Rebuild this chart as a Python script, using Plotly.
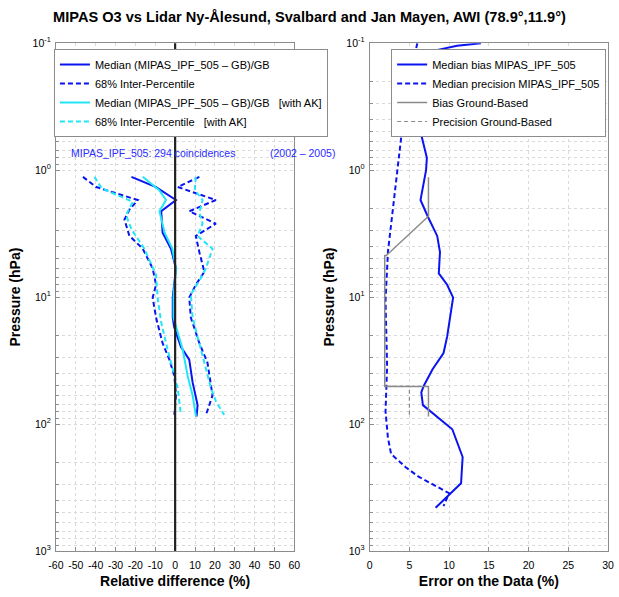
import plotly.graph_objects as go

# ---------------- data (left panel: relative difference %, pressure hPa) ----------------
med_p = [1.13, 1.36, 1.72, 2.11, 3.11, 4.16, 5.95, 10.1, 14.5, 17.2, 24.6, 31.1, 47.0, 71.0, 87.3]
med_x = [-22, -9.6, 0.4, -7, -6.3, -2.1, 0.4, -1.2, -1.2, -0.5, 2.9, 7.1, 8.8, 11.3, 10.8]

medak_p = [1.13, 1.44, 1.72, 2.11, 3.11, 4.16, 5.95, 10.1, 14.5, 20.5, 25.9, 41.8, 59.5, 87.3]
medak_x = [-16.3, -8, -4.6, -7.9, -5.3, -1.4, 0.4, -0.8, -0.8, 2.1, 3.8, 6.3, 8.8, 10.5]

lo_p = [1.13, 1.36, 1.72, 2.05, 2.45, 3.30, 4.16, 5.95, 8.0, 10.1, 14.5, 23.1, 31.1, 41.8, 59.5, 84.7]
lo_x = [-46.4, -39.7, -18.8, -23, -25.5, -23, -16.3, -11.3, -9.6, -11.3, -9.6, -6.3, -2.9, -0.4, 0.4, -0.4]

hi_p = [1.13, 1.36, 1.72, 2.11, 2.64, 3.30, 4.44, 6.32, 8.0, 10.1, 14.5, 23.1, 33.0, 59.5, 71.0, 84.7]
hi_x = [12.2, 1.3, 20.5, 7.1, 20.5, 10.4, 12.2, 14.7, 10.4, 7.1, 7.9, 12.2, 16.3, 18.8, 17.2, 15.5]

loak_p = [1.13, 1.39, 1.78, 2.26, 2.92, 4.16, 6.7, 10.1, 15.6, 25.9, 51.9, 84.7]
loak_x = [-40.6, -37, -21.3, -24.7, -22, -15.5, -9.6, -8.8, -7.1, -3.8, 1.3, 2.9]

hiak_p = [1.13, 1.44, 1.72, 2.16, 2.64, 3.30, 4.16, 5.95, 7.44, 9.5, 14.5, 25.9, 51.9, 66.1, 84.7]
hiak_x = [10.4, 9.9, 13.8, 12.2, 13.8, 11.3, 18.8, 15.5, 12.2, 7.9, 8.8, 13, 18, 20.5, 24.7]

# ---------------- data (right panel: error on the data %) ----------------
bias_p = [0.1, 0.105, 0.115, 0.13, 0.144, 0.2, 0.293, 0.499, 0.80, 1.0, 1.72, 2.31, 3.30, 4.42, 6.51, 8.0,
          10.1, 20.5, 27.6, 37.2, 50.2, 56.4, 71.0, 79.9, 110, 182, 293, 351, 456]
bias_x = [14.0, 11, 8, 6.8, 6.5, 6.3, 6.2, 6.4, 7.2, 7.1, 6.4, 7.3, 8.5, 8.85, 8.7, 9.75,
          10.5, 9.75, 9.3, 7.9, 6.8, 6.5, 6.7, 7.7, 10.4, 11.7, 11.5, 10.2, 8.3]

prec_p = [0.1, 0.15, 0.26, 0.47, 0.755, 1.82, 4.42, 10.8, 35.0, 79.9, 128, 172, 218, 260, 310, 351, 444]
prec_x = [6.0, 5.4, 4.5, 4.1, 3.7, 3.0, 2.3, 2.0, 2.2, 2.0, 2.3, 2.7, 4.5, 6.15, 8.4, 10.0, 9.3]

gb_bias_p = [1.14, 2.31, 4.70, 4.70, 50.6, 50.6, 87.3]
gb_bias_x = [7.4, 7.4, 2.1, 1.9, 1.9, 7.4, 7.4]

gb_prec_p = [50.6, 50.6, 87.3]
gb_prec_x = [1.9, 5.0, 5.0]

left_xticks = [-60, -50, -40, -30, -20, -10, 0, 10, 20, 30, 40, 50, 60]
left_xlabels = ["-60", "-50", "-40", "-30", "-20", "-10", "0", "10", "20", "30", "40", "50", "60"]
right_xticks = [0, 5, 10, 15, 20, 25, 30]
decades = [0.1, 1, 10, 100, 1000]
decade_labels = ["10<sup>-1</sup>", "10<sup>0</sup>", "10<sup>1</sup>", "10<sup>2</sup>", "10<sup>3</sup>"]

TITLE = "MIPAS O3 vs Lidar Ny-Ålesund, Svalbard and Jan Mayen, AWI (78.9°,11.9°)"

FONT = "Liberation Sans, Arial, sans-serif"
BLUE = "#0a14f0"
CYAN = "#22e6f6"
GRAY = "#8a8a8a"
DASH = "5px,3px"

minor_vals = [d * m for d in decades[:-1] for m in range(2, 10)]

fig = go.Figure()

def line(x, y, color, dash, name, xa, ya, legend, width=2):
    fig.add_trace(go.Scatter(x=x, y=y, mode="lines", name=name,
                             line=dict(color=color, dash=dash, width=width),
                             xaxis=xa, yaxis=ya, legend=legend))

line(med_x, med_p, BLUE, "solid", "Median (MIPAS_IPF_505 – GB)/GB", "x", "y", "legend")
line(lo_x, lo_p, BLUE, DASH, "68% Inter-Percentile", "x", "y", "legend")
line(medak_x, medak_p, CYAN, "solid", "Median (MIPAS_IPF_505 – GB)/GB   [with AK]", "x", "y", "legend")
line(loak_x, loak_p, CYAN, DASH, "68% Inter-Percentile   [with AK]", "x", "y", "legend")
fig.add_trace(go.Scatter(x=hi_x, y=hi_p, mode="lines", line=dict(color=BLUE, dash=DASH, width=2),
                         showlegend=False, xaxis="x", yaxis="y"))
fig.add_trace(go.Scatter(x=hiak_x, y=hiak_p, mode="lines", line=dict(color=CYAN, dash=DASH, width=2),
                         showlegend=False, xaxis="x", yaxis="y"))

line(bias_x, bias_p, BLUE, "solid", "Median bias MIPAS_IPF_505", "x2", "y2", "legend2")
line(prec_x, prec_p, BLUE, DASH, "Median precision MIPAS_IPF_505", "x2", "y2", "legend2")
line(gb_bias_x, gb_bias_p, GRAY, "solid", "Bias Ground-Based", "x2", "y2", "legend2", width=1.5)
line(gb_prec_x, gb_prec_p, GRAY, "4px,3px", "Precision Ground-Based", "x2", "y2", "legend2", width=1.2)

# zero line in left panel
fig.add_shape(type="line", x0=0, x1=0, y0=0, y1=1, xref="x", yref="y domain",
              line=dict(color="#222", width=2.2), layer="above")

L0, L1 = 49 / 619, 293 / 619
R0, R1 = 370 / 619, 614 / 619
B, T = 1 - 556 / 597, 1 - 36 / 597

GRID = "#dadada"
axis_common = dict(showline=True, mirror=True, linecolor="#8c8c8c", linewidth=1,
                   showgrid=True, gridcolor=GRID, griddash="dot", gridwidth=1,
                   ticks="inside", ticklen=4, tickcolor="#8c8c8c", zeroline=False, tickangle=0,
                   tickfont=dict(size=10.5, color="black", family=FONT))

yaxis_common = dict(axis_common, type="log", range=[3, -1], tickmode="array",
                    tickvals=decades, ticktext=decade_labels, domain=[B, T], ticklabelstandoff=2,
                    minor=dict(tickmode="array", tickvals=minor_vals, showgrid=True, gridcolor=GRID,
                               griddash="dot", gridwidth=1, ticks="inside", ticklen=3, tickcolor="#8c8c8c"),
                    title=dict(text="<b>Pressure (hPa)</b>", font=dict(size=14, family=FONT), standoff=8))

fig.update_layout(
    width=619, height=597,
    margin=dict(l=0, r=0, t=0, b=0),
    paper_bgcolor="white", plot_bgcolor="white",
    font=dict(family=FONT, color="black"),
    title=dict(text="<b>" + TITLE + "</b>", x=0.5, xanchor="center", y=1 - 17 / 597, yanchor="middle",
               font=dict(size=14.6, family=FONT)),
    xaxis=dict(axis_common, domain=[L0, L1], range=[-60, 60], tickmode="array", tickvals=left_xticks,
               ticktext=left_xlabels, anchor="y", ticklabelstandoff=4,
               title=dict(text="<b>Relative difference (%)</b>", font=dict(size=14, family=FONT), standoff=6)),
    yaxis=dict(yaxis_common, anchor="x"),
    xaxis2=dict(axis_common, domain=[R0, R1], range=[0, 30], tickmode="array", tickvals=right_xticks,
                anchor="y2", ticklabelstandoff=4,
                title=dict(text="<b>Error on the Data (%)</b>", font=dict(size=14, family=FONT), standoff=6)),
    yaxis2=dict(yaxis_common, anchor="x2"),
    legend=dict(x=47 / 619, y=1 - 42 / 597, xanchor="left", yanchor="top", bgcolor="white",
                bordercolor="#8c8c8c", borderwidth=1, font=dict(size=11, family=FONT),
                itemwidth=30, tracegroupgap=0),
    legend2=dict(x=392 / 619, y=1 - 42 / 597, xanchor="left", yanchor="top", bgcolor="white",
                 bordercolor="#8c8c8c", borderwidth=1, font=dict(size=11, family=FONT),
                 itemwidth=30, tracegroupgap=0),
    showlegend=True,
)

fig.add_annotation(text="MIPAS_IPF_505: 294 coincidences", xref="paper", yref="paper",
                   x=62 / 619, y=1 - 148 / 597, xanchor="left", yanchor="middle", showarrow=False,
                   font=dict(size=10.5, color="#2a2aff", family=FONT))
fig.add_annotation(text="(2002 – 2005)", xref="paper", yref="paper",
                   x=266 / 619, y=1 - 148 / 597, xanchor="left", yanchor="middle", showarrow=False,
                   font=dict(size=10.5, color="#2a2aff", family=FONT))

fig.write_html("out.html")
